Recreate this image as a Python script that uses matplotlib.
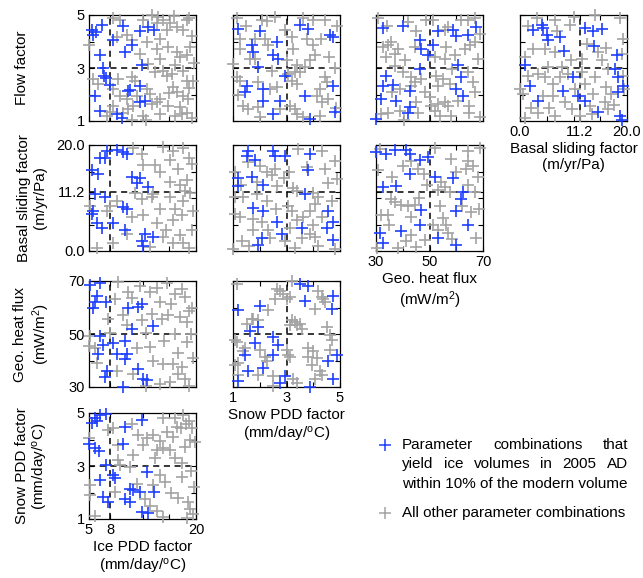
import matplotlib
matplotlib.use("Agg")
import matplotlib.pyplot as plt
from matplotlib.lines import Line2D

plt.rcParams["font.family"] = ["Liberation Sans", "DejaVu Sans"]
plt.rcParams["mathtext.default"] = "regular"

BLUE = "#1f3fff"
GRAY = "#a3a3a3"

# parameter ranges, reference values (dashed lines) and tick layout
LIMITS = {"ice": (5, 20), "snow": (1, 5), "geo": (30, 70), "basal": (0, 20), "flow": (1, 5)}
REFERENCE = {"ice": 8, "snow": 3, "geo": 50, "basal": 11.2, "flow": 3}
MAJOR_TICKS = {"ice": [5, 8, 20], "snow": [1, 3, 5], "geo": [30, 50, 70],
               "basal": [0, 11.2, 20], "flow": [1, 3, 5]}
TICK_LABELS = {"ice": ["5", "8", "20"], "snow": ["1", "3", "5"], "geo": ["30", "50", "70"],
               "basal": ["0.0", "11.2", "20.0"], "flow": ["1", "3", "5"]}
MINOR_TICKS = {"ice": [12.5, 16.25], "snow": [2, 4], "geo": [40, 60],
               "basal": [5, 10, 15], "flow": [2, 4]}
LABELS = {
    "ice": "Ice PDD factor\n(mm/day/$^{o}$C)",
    "snow": "Snow PDD factor\n(mm/day/$^{o}$C)",
    "geo": "Geo. heat flux\n(mW/m$^{2}$)",
    "basal": "Basal sliding factor\n(m/yr/Pa)",
    "flow": "Flow factor",
}

# ---- points, (x, y) in data units ----
ICE_FLOW_BLUE = [(5.4, 4.43), (5.6, 4.24), (6.0, 4.34), (6.8, 4.62), (9.8, 4.59), (12.2, 4.39),
                 (13.3, 4.56), (14.1, 4.43), (8.4, 4.05), (11.0, 3.86), (10.0, 3.6), (6.5, 3.48),
                 (6.9, 3.0), (7.1, 2.71), (7.4, 2.61), (7.9, 2.36), (12.4, 3.1), (10.5, 2.14),
                 (10.7, 2.18), (12.2, 2.33), (5.8, 1.95), (12.1, 1.7), (12.9, 1.76), (6.5, 1.38),
                 (8.9, 1.25), (9.6, 1.13)]
ICE_FLOW_GRAY = [(8.4, 4.87), (9.3, 4.81), (13.8, 5.0), (14.7, 4.94), (15.4, 4.81), (16.3, 4.68),
                 (17.3, 4.56), (14.5, 4.68), (15.9, 4.43), (18.7, 4.81), (18.2, 4.43), (10.3, 4.24),
                 (8.9, 4.17), (11.0, 4.05), (13.1, 3.98), (14.5, 3.73), (16.1, 3.79), (17.3, 3.6),
                 (17.7, 3.41), (18.7, 3.48), (14.9, 3.35), (5.0, 3.86), (5.6, 2.59), (12.1, 3.54),
                 (13.3, 3.16), (14.2, 2.84), (15.4, 2.9), (15.9, 2.71), (16.6, 2.78), (18.2, 2.9),
                 (18.7, 2.52), (6.3, 2.4), (8.4, 2.21), (11.0, 2.65), (11.4, 2.52), (9.3, 1.95),
                 (10.3, 1.83), (11.7, 1.95), (13.8, 1.63), (14.5, 1.7), (16.8, 2.27), (17.3, 2.08),
                 (18.2, 1.95), (18.9, 1.83), (11.2, 1.57), (10.5, 1.44), (8.4, 1.57), (7.9, 1.34),
                 (7.5, 1.19), (16.1, 1.57), (17.7, 1.51), (18.0, 1.25), (18.7, 1.32), (13.1, 2.21),
                 (13.5, 2.02), (14.9, 1.83), (12.6, 1.19), (9.8, 1.32), (17.1, 1.19), (19.5, 4.2),
                 (19.6, 2.5), (19.4, 1.1), (19.7, 3.2), (16.9, 4.95), (19.0, 4.9), (12.5, 4.8),
                 (15.0, 4.1), (17.0, 3.1), (19.2, 3.8), (16.2, 2.05), (15.0, 1.25), (13.0, 1.05),
                 (11.0, 1.05), (9.0, 2.6), (19.0, 2.25)]

SNOW_FLOW_BLUE = [(1.2, 4.47), (2.01, 4.39), (1.7, 3.86), (1.76, 3.6), (2.63, 3.98), (2.51, 3.48),
                  (2.69, 3.35), (1.95, 3.03), (3.5, 4.64), (3.82, 4.47), (4.63, 4.26), (4.75, 4.17),
                  (2.94, 2.68), (1.51, 2.33), (1.45, 2.1), (2.13, 2.21), (2.13, 1.76), (2.76, 1.76),
                  (3.69, 1.95), (4.75, 2.33), (2.51, 1.25), (3.88, 1.06), (4.81, 1.34)]
SNOW_FLOW_GRAY = [(1.14, 4.87), (2.07, 4.81), (2.57, 4.94), (2.26, 4.77), (3.63, 4.87), (4.0, 4.81),
                  (4.44, 4.81), (1.84, 4.11), (2.2, 4.11), (2.32, 3.86), (1.26, 3.73), (1.64, 3.35),
                  (3.25, 3.73), (3.19, 4.17), (3.75, 4.11), (4.0, 3.86), (4.3, 4.11), (4.07, 3.48),
                  (3.88, 3.29), (3.69, 3.03), (3.5, 2.84), (3.32, 2.84), (1.0, 3.16), (1.14, 2.65),
                  (1.26, 2.52), (1.95, 2.46), (2.38, 2.21), (3.07, 2.78), (3.19, 2.52), (3.38, 2.4),
                  (4.25, 2.21), (4.44, 2.65), (4.5, 2.46), (4.13, 1.95), (4.32, 1.7), (4.56, 1.83),
                  (1.39, 1.57), (1.57, 1.44), (1.95, 1.51), (2.76, 1.44), (3.13, 1.57), (3.32, 1.44),
                  (3.38, 1.25), (4.25, 1.19), (2.63, 2.27), (1.26, 4.11), (2.94, 4.43), (1.82, 3.35),
                  (1.5, 4.6), (3.0, 3.3), (3.4, 3.1), (4.8, 3.0), (4.9, 4.6), (4.85, 1.5),
                  (2.45, 2.9), (1.2, 2.0), (2.0, 1.15), (3.6, 1.15), (4.6, 3.4)]

GEO_FLOW_BLUE = [(32.6, 4.52), (40.1, 4.59), (46.3, 4.05), (46.9, 3.73), (49.4, 3.48), (51.3, 3.86),
                 (53.2, 4.39), (58.8, 4.43), (60.0, 4.21), (64.4, 4.26), (67.5, 4.56), (46.3, 2.97),
                 (60.7, 3.12), (33.9, 2.71), (32.6, 2.33), (36.4, 2.37), (42.6, 2.14), (32.0, 1.83),
                 (37.6, 1.76), (61.9, 2.65), (60.0, 2.21), (62.5, 1.95), (42.6, 1.51), (42.0, 1.29),
                 (30.1, 1.06)]
GEO_FLOW_GRAY = [(30.7, 4.9), (48.8, 4.81), (51.3, 4.81), (61.9, 4.81), (64.4, 4.81), (66.9, 4.87),
                 (56.9, 4.56), (55.7, 4.43), (32.6, 3.79), (34.5, 3.86), (35.7, 3.98), (38.2, 3.73),
                 (37.0, 3.54), (33.9, 3.41), (40.7, 3.29), (44.5, 3.79), (56.3, 3.79), (63.2, 3.73),
                 (65.0, 3.86), (66.9, 3.98), (59.4, 3.48), (55.7, 3.35), (37.0, 3.09), (40.0, 2.84),
                 (43.2, 2.65), (44.5, 2.46), (43.2, 2.33), (52.6, 2.71), (55.0, 2.59), (53.2, 2.33),
                 (57.5, 2.4), (64.4, 2.84), (66.3, 2.46), (66.9, 2.08), (38.8, 2.21), (48.2, 2.08),
                 (45.1, 1.7), (38.8, 1.38), (34.5, 1.32), (32.0, 1.25), (50.7, 1.57), (53.2, 1.63),
                 (55.7, 1.7), (60.7, 1.76), (64.6, 1.57), (64.6, 1.32), (53.8, 1.19), (51.9, 1.38),
                 (45.7, 1.32), (56.9, 1.57), (50.1, 1.89), (34.0, 4.6), (42.0, 4.75), (45.0, 4.4),
                 (69.0, 4.3), (52.0, 3.4), (47.0, 2.6), (36.0, 2.1), (58.5, 2.95), (68.0, 3.35),
                 (69.0, 1.15), (58.0, 1.2), (40.5, 1.05)]

BASAL_FLOW_BLUE = [(2.5, 4.43), (4.05, 4.62), (4.36, 4.52), (5.0, 4.26), (5.3, 4.05), (7.5, 4.17),
                   (8.3, 3.63), (12.1, 4.52), (13.7, 4.39), (15.3, 4.47), (13.9, 3.83), (18.1, 3.48),
                   (0.93, 3.1), (1.87, 2.33), (9.97, 2.65), (8.1, 2.14), (3.43, 1.76), (10.9, 1.95),
                   (12.1, 1.76), (17.8, 2.97), (18.4, 2.65), (19.3, 2.33), (18.4, 2.1), (14.6, 1.34),
                   (18.7, 1.19), (19.0, 1.04)]
BASAL_FLOW_GRAY = [(3.1, 4.87), (6.5, 4.81), (10.0, 4.94), (14.0, 5.0), (18.7, 4.87), (19.3, 4.11),
                   (9.3, 4.62), (4.7, 3.73), (2.5, 3.73), (6.5, 3.6), (11.5, 3.35), (15.3, 3.29),
                   (16.5, 2.97), (0.93, 3.41), (1.56, 2.71), (3.4, 2.78), (4.67, 2.65), (6.2, 2.4),
                   (7.5, 2.65), (9.0, 2.78), (5.3, 3.03), (7.8, 3.03), (0.0, 2.21), (0.6, 2.02),
                   (4.36, 1.95), (6.2, 1.95), (12.1, 2.4), (13.7, 2.02), (15.9, 1.7), (17.1, 2.02),
                   (19.3, 2.71), (3.4, 1.32), (0.93, 1.13), (6.5, 1.19), (9.7, 1.44), (11.2, 1.19),
                   (13.4, 1.25), (19.0, 3.54), (11.5, 2.84), (14.0, 2.65), (10.3, 2.21), (16.5, 1.44),
                   (1.5, 4.6), (7.0, 4.4), (12.5, 3.9), (14.5, 3.6), (16.0, 3.75), (19.5, 2.2),
                   (16.0, 2.3), (8.5, 1.7), (5.5, 1.5), (2.0, 1.5), (13.0, 1.55), (17.5, 1.6),
                   (9.5, 3.3)]

ICE_BASAL_BLUE = [(7.5, 18.9), (7.2, 17.6), (6.5, 17.5), (8.9, 19.1), (9.8, 18.7), (10.3, 18.3),
                  (5.4, 15.2), (6.3, 14.6), (11.0, 14.0), (12.1, 13.7), (11.7, 12.8), (13.3, 12.0),
                  (5.8, 10.7), (7.2, 10.1), (5.6, 7.6), (5.4, 7.0), (10.3, 8.0), (9.8, 8.3),
                  (6.1, 5.2), (6.8, 4.4), (8.4, 5.3), (10.0, 4.0), (12.8, 3.3), (14.0, 2.6),
                  (12.4, 1.8), (12.6, 1.0)]
ICE_BASAL_GRAY = [(11.2, 19.5), (12.4, 18.3), (15.4, 19.7), (16.8, 18.9), (18.2, 19.5), (16.3, 17.1),
                  (14.2, 16.2), (14.9, 14.9), (16.3, 13.1), (17.7, 12.5), (18.7, 13.4), (18.4, 11.3),
                  (14.0, 10.7), (13.8, 10.1), (12.4, 9.8), (8.9, 9.4), (8.0, 8.5), (5.1, 8.5),
                  (7.5, 7.6), (11.0, 6.4), (12.6, 6.7), (14.9, 7.9), (16.8, 5.8), (18.0, 6.7),
                  (18.2, 9.4), (16.3, 10.1), (14.5, 5.2), (6.1, 0.6), (8.4, 1.5), (10.3, 3.3),
                  (15.4, 2.7), (16.8, 1.5), (18.2, 1.5), (12.6, 16.2), (19.5, 4.0), (19.4, 16.5),
                  (19.0, 17.5), (17.5, 15.5), (19.2, 11.0), (17.0, 8.0), (19.6, 7.5), (15.8, 4.0),
                  (17.8, 3.0), (19.0, 0.5), (13.5, 0.8), (11.5, 11.0)]

SNOW_BASAL_BLUE = [(1.55, 18.9), (1.51, 18.0), (1.82, 17.1), (2.51, 18.9), (2.57, 17.9), (2.94, 17.9),
                   (3.88, 18.3), (3.82, 15.2), (1.2, 13.7), (1.2, 12.2), (1.7, 14.0), (2.13, 12.5),
                   (3.69, 10.7), (1.76, 8.2), (2.13, 7.6), (2.63, 5.5), (2.83, 3.3), (3.57, 4.3),
                   (4.56, 7.6), (4.5, 4.3), (2.07, 2.4), (1.95, 1.2), (4.75, 2.1), (4.75, 5.5)]
SNOW_BASAL_GRAY = [(3.44, 19.2), (4.31, 18.9), (1.57, 16.8), (2.26, 14.9), (2.45, 14.3), (2.57, 15.5),
                   (3.75, 15.9), (4.44, 15.5), (4.56, 12.8), (1.07, 14.9), (1.88, 13.1), (2.63, 12.2),
                   (3.26, 11.9), (3.38, 11.3), (4.0, 11.0), (4.19, 10.1), (4.06, 8.8), (3.88, 7.6),
                   (4.31, 6.4), (1.07, 10.1), (1.39, 10.1), (2.26, 9.4), (1.07, 7.0), (1.26, 6.4),
                   (1.76, 6.1), (2.07, 5.5), (3.07, 8.5), (3.19, 7.6), (3.38, 5.8), (3.13, 4.3),
                   (2.32, 4.0), (1.76, 4.0), (1.32, 1.8), (1.0, 0.3), (2.94, 1.8), (3.57, 2.4),
                   (4.07, 2.7), (4.19, 0.9), (3.88, 3.3), (2.0, 16.0), (1.3, 12.5), (2.9, 13.8),
                   (3.1, 15.0), (4.8, 17.0), (4.9, 13.5), (4.7, 9.5), (3.6, 6.5), (2.6, 8.0),
                   (2.4, 2.5), (1.6, 1.0), (3.3, 0.5), (4.8, 0.4), (4.0, 5.0), (1.9, 10.8)]

GEO_BASAL_BLUE = [(30.1, 18.6), (33.9, 18.3), (37.0, 19.1), (41.3, 19.1), (42.6, 18.3), (46.3, 17.2),
                  (49.4, 17.8), (42.6, 14.6), (51.9, 13.9), (58.8, 13.7), (32.6, 12.1), (37.6, 12.3),
                  (62.5, 11.1), (61.9, 9.9), (60.0, 7.6), (46.9, 7.7), (46.3, 5.0), (39.5, 3.7),
                  (31.5, 3.4), (32.8, 1.6), (64.4, 5.0), (53.2, 2.5), (60.0, 1.1)]
GEO_BASAL_GRAY = [(31.4, 19.2), (51.9, 19.5), (64.4, 18.9), (64.4, 17.0), (58.2, 17.3), (63.8, 15.5),
                  (30.7, 15.2), (43.2, 17.0), (45.7, 15.5), (54.4, 13.0), (55.7, 12.1), (57.5, 11.1),
                  (53.2, 11.5), (35.7, 9.9), (37.0, 9.3), (39.5, 8.7), (41.9, 8.4), (44.5, 8.7),
                  (32.0, 6.8), (34.5, 6.8), (43.2, 6.5), (53.8, 8.4), (55.0, 6.2), (56.3, 5.0),
                  (51.3, 5.0), (53.2, 4.0), (41.3, 1.9), (38.2, 0.6), (43.2, 3.1), (64.4, 12.4),
                  (66.9, 11.1), (65.6, 7.4), (67.5, 2.5), (56.9, 3.4), (66.3, 16.1), (40.0, 16.0),
                  (36.0, 14.0), (48.0, 14.5), (49.0, 12.5), (60.0, 15.0), (68.0, 14.0), (62.0, 8.5),
                  (68.5, 8.0), (46.0, 10.0), (48.5, 2.0), (35.0, 5.0), (58.5, 2.2), (30.5, 0.5),
                  (45.0, 0.8), (69.0, 19.5)]

ICE_GEO_BLUE = [(5.2, 68.4), (6.5, 69.1), (6.1, 64.5), (5.8, 62.0), (5.6, 59.8), (7.4, 62.2),
                (10.5, 59.8), (11.9, 60.2), (12.4, 61.4), (14.0, 53.1), (11.0, 51.9), (6.5, 49.4),
                (7.0, 46.0), (8.4, 46.6), (10.0, 47.2), (6.3, 42.5), (8.9, 42.3), (10.0, 40.5),
                (10.3, 42.5), (7.5, 36.2), (7.2, 33.7), (11.9, 36.8), (12.6, 33.1), (13.1, 32.5),
                (9.8, 30.0)]
ICE_GEO_GRAY = [(5.1, 49.1), (5.8, 44.8), (5.0, 45.4), (6.1, 39.2), (7.7, 55.8), (8.6, 63.2),
                (9.1, 69.6), (12.1, 68.2), (13.5, 65.7), (15.9, 69.4), (17.0, 65.1), (18.0, 66.9),
                (18.4, 63.8), (15.0, 62.0), (16.1, 57.1), (17.8, 56.5), (18.7, 54.6), (13.8, 57.7),
                (15.2, 55.8), (12.4, 55.2), (10.3, 53.4), (11.7, 44.8), (8.9, 36.1), (14.0, 39.8),
                (15.4, 38.6), (16.8, 38.6), (18.0, 37.4), (18.4, 33.1), (15.0, 31.2), (16.4, 31.8),
                (11.2, 34.9), (19.3, 50.0), (18.8, 47.0), (17.5, 43.0), (19.5, 60.0), (9.8, 57.1),
                (10.5, 66.0), (11.0, 63.5), (14.5, 67.5), (16.5, 61.5), (19.0, 58.5), (13.0, 50.5),
                (15.5, 47.5), (17.0, 50.0), (13.5, 45.0), (19.6, 41.0), (17.5, 35.0), (13.0, 30.5),
                (19.0, 30.5), (8.0, 50.5)]

SNOW_GEO_BLUE = [(1.2, 58.9), (2.01, 60.7), (1.95, 52.7), (1.64, 51.1), (1.84, 46.5), (2.51, 49.0),
                 (2.69, 45.9), (1.45, 42.1), (2.51, 42.1), (2.13, 37.2), (1.57, 36.0), (1.2, 32.2),
                 (2.94, 34.1), (2.76, 31.6), (3.88, 30.0), (3.5, 68.8), (3.82, 68.1), (3.69, 62.6),
                 (4.75, 64.4), (4.69, 59.5), (4.88, 42.1), (4.56, 39.7), (4.75, 32.9)]
SNOW_GEO_GRAY = [(1.14, 68.8), (2.63, 66.9), (3.0, 63.2), (3.19, 70.0), (4.19, 66.3), (4.38, 63.2),
                 (1.76, 55.8), (2.32, 58.9), (3.32, 54.5), (3.13, 53.3), (3.57, 52.0), (1.14, 47.1),
                 (1.39, 43.4), (1.2, 39.0), (2.26, 39.7), (3.07, 42.1), (3.82, 41.5), (4.13, 40.9),
                 (4.63, 49.6), (4.69, 47.7), (3.94, 38.4), (4.25, 36.0), (4.07, 32.9), (3.26, 32.9),
                 (2.51, 30.4), (1.95, 34.7), (2.76, 66.3), (2.88, 65.0), (2.57, 63.2), (3.13, 63.8),
                 (4.31, 63.8), (4.44, 62.0), (4.07, 59.5), (3.19, 55.1), (3.38, 53.3), (3.5, 53.9),
                 (1.7, 55.8), (1.51, 53.9), (1.95, 55.1), (1.07, 47.7), (1.45, 44.6), (2.01, 44.0),
                 (2.2, 41.5), (3.0, 44.0), (3.13, 41.5), (3.82, 44.6), (4.0, 43.4), (4.5, 52.7),
                 (4.63, 44.0), (4.31, 34.7), (3.38, 31.6), (2.51, 34.1), (1.2, 34.7), (1.07, 38.4)]

ICE_SNOW_BLUE = [(5.8, 4.81), (6.1, 4.71), (6.5, 4.91), (7.4, 4.96), (5.4, 4.62), (12.4, 4.75),
                 (10.0, 4.49), (9.8, 3.82), (5.0, 3.82), (5.8, 3.67), (6.4, 3.56), (7.4, 3.03),
                 (6.5, 2.46), (8.4, 2.65), (8.6, 2.55), (13.1, 2.78), (7.0, 1.83), (7.7, 1.63),
                 (10.7, 2.14), (11.2, 2.08), (12.1, 2.02), (14.1, 2.02), (10.0, 1.76), (10.7, 1.63),
                 (12.4, 1.25), (13.3, 1.22)]
ICE_SNOW_GRAY = [(5.0, 4.05), (8.4, 4.43), (11.9, 4.18), (15.4, 4.81), (17.0, 4.83), (18.2, 4.94),
                 (17.3, 4.49), (17.9, 4.43), (19.4, 4.43), (19.1, 3.98), (19.8, 3.92), (13.1, 4.05),
                 (14.0, 4.18), (12.6, 3.79), (14.5, 3.6), (15.4, 3.67), (16.3, 3.6), (14.2, 3.29),
                 (11.2, 3.41), (9.1, 3.22), (9.3, 3.03), (10.7, 2.97), (18.0, 3.1), (15.0, 2.65),
                 (15.6, 2.4), (18.0, 2.59), (5.1, 2.27), (5.1, 1.89), (8.6, 2.02), (11.7, 2.33),
                 (12.9, 1.76), (14.5, 1.32), (15.4, 1.06), (18.9, 1.63), (19.1, 1.38), (19.6, 1.19),
                 (5.8, 1.1), (7.7, 4.37), (16.0, 4.3), (18.6, 4.6), (19.0, 4.7), (16.8, 4.1),
                 (18.5, 3.7), (17.0, 3.3), (19.3, 2.8), (16.5, 2.0), (17.5, 1.8), (14.0, 2.3),
                 (13.5, 1.5), (9.0, 3.8), (11.0, 4.6), (15.0, 3.95), (19.7, 2.2), (18.7, 1.05)]

# (row, col) -> (x param, y param, blue points, gray points)
PANELS = {
    (0, 0): ("ice", "flow", ICE_FLOW_BLUE, ICE_FLOW_GRAY),
    (0, 1): ("snow", "flow", SNOW_FLOW_BLUE, SNOW_FLOW_GRAY),
    (0, 2): ("geo", "flow", GEO_FLOW_BLUE, GEO_FLOW_GRAY),
    (0, 3): ("basal", "flow", BASAL_FLOW_BLUE, BASAL_FLOW_GRAY),
    (1, 0): ("ice", "basal", ICE_BASAL_BLUE, ICE_BASAL_GRAY),
    (1, 1): ("snow", "basal", SNOW_BASAL_BLUE, SNOW_BASAL_GRAY),
    (1, 2): ("geo", "basal", GEO_BASAL_BLUE, GEO_BASAL_GRAY),
    (2, 0): ("ice", "geo", ICE_GEO_BLUE, ICE_GEO_GRAY),
    (2, 1): ("snow", "geo", SNOW_GEO_BLUE, SNOW_GEO_GRAY),
    (3, 0): ("ice", "snow", ICE_SNOW_BLUE, ICE_SNOW_GRAY),
}

W, H = 643, 578
COL_LEFT = [89, 233, 376, 520]
ROW_TOP = [15, 145, 281, 413]
PANEL_W, PANEL_H = 107, 106
YLABEL_X = {"flow": -0.56, "basal": -0.39, "geo": -0.35, "snow": -0.36}

fig = plt.figure(figsize=(W / 100, H / 100), dpi=100)


def style_axis(axis, param, show_labels):
    axis.set_ticks(MAJOR_TICKS[param])
    axis.set_ticks(MINOR_TICKS[param], minor=True)
    if show_labels:
        axis.set_ticklabels(TICK_LABELS[param])
    else:
        axis.set_ticklabels([])


for (row, col), (xp, yp, blue, gray) in PANELS.items():
    ax = fig.add_axes([COL_LEFT[col] / W, (H - ROW_TOP[row] - PANEL_H) / H, PANEL_W / W, PANEL_H / H])
    for pts, color in ((gray, GRAY), (blue, BLUE)):
        ax.plot([p[0] for p in pts], [p[1] for p in pts], linestyle="none", marker="+",
                markersize=8, markeredgewidth=1.2, color=color, clip_on=False, zorder=3)
    ax.axvline(REFERENCE[xp], color="black", linestyle=(0, (4, 3)), linewidth=1.1, zorder=2)
    ax.axhline(REFERENCE[yp], color="black", linestyle=(0, (4, 3)), linewidth=1.1, zorder=2)
    ax.set_xlim(*LIMITS[xp])
    ax.set_ylim(*LIMITS[yp])
    bottom_of_column = row == 3 - col
    style_axis(ax.xaxis, xp, bottom_of_column)
    style_axis(ax.yaxis, yp, col == 0)
    ax.tick_params(which="both", direction="in", length=3.5, width=0.8, top=True, right=True,
                   labelsize=10.5, pad=3)
    for spine in ax.spines.values():
        spine.set_linewidth(0.9)
    if bottom_of_column:
        ax.set_xlabel(LABELS[xp], fontsize=11, labelpad=2)
    if col == 0:
        ax.set_ylabel(LABELS[yp], fontsize=11)
        ax.yaxis.set_label_coords(YLABEL_X[yp], 0.5)

# legend, written out to the right of the lower panels
renderer = fig.canvas.get_renderer()
TEXT_LEFT, TEXT_RIGHT = 402, 628
legend_lines = ["Parameter combinations that", "yield ice volumes in 2005 AD"]
line_y = [445, 464]
for words_line, y in zip(legend_lines, line_y):
    words = words_line.split()
    texts = [fig.text(0, 1 - y / H, w, fontsize=11, va="center", ha="left") for w in words]
    widths = [t.get_window_extent(renderer).width for t in texts]
    gap = (TEXT_RIGHT - TEXT_LEFT - sum(widths)) / (len(words) - 1)
    x = TEXT_LEFT
    for t, wdt in zip(texts, widths):
        t.set_x(x / W)
        x += wdt + gap
fig.text(TEXT_LEFT / W, 1 - 484 / H, "within 10% of the modern volume", fontsize=11, va="center")
fig.text(TEXT_LEFT / W, 1 - 513 / H, "All other parameter combinations", fontsize=11, va="center")
for y, color in ((445, BLUE), (513, GRAY)):
    fig.add_artist(Line2D([385 / W], [1 - y / H], transform=fig.transFigure, marker="+",
                          markersize=9, markeredgewidth=1.1, color=color, linestyle="none"))

fig.savefig("out.png", dpi=100)
